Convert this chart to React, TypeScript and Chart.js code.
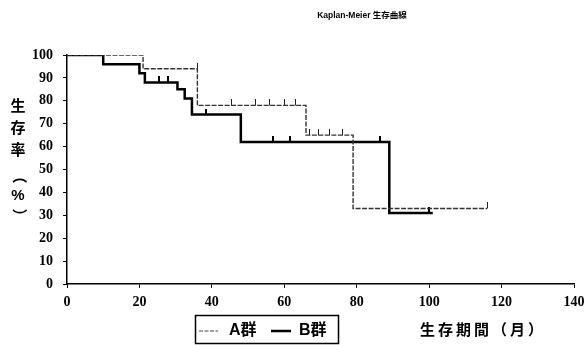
import React, { useEffect, useRef } from "react";
import { Chart, registerables } from "chart.js";

Chart.register(...registerables);

// Kaplan-Meier step data (months, survival %)
const monthsA = [0, 21, 36, 66, 79, 116];
const survA = [100, 94, 78, 65, 33, 33];
const monthsB = [0, 10, 20, 21.5, 30.5, 32.5, 34.5, 48, 89, 101];
const survB = [100, 96, 92, 88, 85, 81, 74, 62, 31, 31];

// censored observations
const censorMonthsA = [36, 45.5, 52, 56, 60, 63, 67, 69.5, 72.5, 76, 116];
const censorSurvA = [94, 78, 78, 78, 78, 78, 65, 65, 65, 65, 33];
const censorMonthsB = [25.5, 28, 38.5, 57, 61.5, 86.5, 100];
const censorSurvB = [88, 88, 74, 62, 62, 62, 31];

const xTicks = [0, 20, 40, 60, 80, 100, 120, 140];
const yTicks = [0, 10, 20, 30, 40, 50, 60, 70, 80, 90, 100];

const chartTitle = "Kaplan-Meier 生存曲線";
const yTitleChars = ["生", "存", "率", "（", "%", "）"];
const xTitle = "生存期間（月）";
const legendA = "A群";
const legendB = "B群";

const CJK = "'Liberation Sans', 'Noto Sans CJK JP', sans-serif";
const SERIF = "'Liberation Serif', 'DejaVu Serif', serif";

function tickMark(width: number, height: number, color: string) {
  // vertical tick that rises above the point it marks
  const c = document.createElement("canvas");
  c.width = width;
  c.height = height * 2;
  const g = c.getContext("2d")!;
  g.fillStyle = color;
  g.fillRect(0, 0, width, height);
  return c;
}

const decorations = {
  id: "decorations",
  afterDraw(chart: any) {
    const ctx = chart.ctx as CanvasRenderingContext2D;
    ctx.save();
    ctx.fillStyle = "#000";
    ctx.textBaseline = "middle";

    // title
    ctx.textAlign = "center";
    ctx.font = `bold 8.5px ${CJK}`;
    ctx.fillText(chartTitle, 362, 16);

    // vertical y-axis title, brackets turned to run top-to-bottom
    ctx.font = `bold 15px ${CJK}`;
    const yPos = [107, 129, 151, 176, 196, 216];
    yTitleChars.forEach((ch, i) => {
      if (ch === "（" || ch === "）") {
        ctx.save();
        ctx.translate(18, yPos[i]);
        ctx.rotate(Math.PI / 2);
        ctx.fillText(ch, 0, 0);
        ctx.restore();
      } else {
        ctx.fillText(ch, 18, yPos[i]);
      }
    });

    // x-axis title
    ctx.textAlign = "left";
    ctx.font = `bold 15px ${CJK}`;
    let x = 420;
    for (const ch of Array.from(xTitle)) {
      ctx.fillText(ch, x, 331);
      x += ctx.measureText(ch).width + 3;
    }

    // legend box
    ctx.strokeStyle = "#000";
    ctx.lineWidth = 1.5;
    ctx.strokeRect(195.5, 315.5, 143, 28);

    ctx.strokeStyle = "#444";
    ctx.lineWidth = 1.2;
    ctx.setLineDash([4, 1.5]);
    ctx.beginPath();
    ctx.moveTo(199, 331);
    ctx.lineTo(218, 331);
    ctx.stroke();
    ctx.setLineDash([]);

    ctx.strokeStyle = "#000";
    ctx.lineWidth = 2.5;
    ctx.beginPath();
    ctx.moveTo(271, 331);
    ctx.lineTo(291, 331);
    ctx.stroke();

    ctx.font = `bold 16px ${CJK}`;
    ctx.fillText(legendA, 229, 331);
    ctx.fillText(legendB, 299, 331);
    ctx.restore();
  },
};

export default function App() {
  const ref = useRef<HTMLCanvasElement>(null);

  useEffect(() => {
    const canvas = ref.current!;
    const chart = new Chart(canvas, {
      type: "line",
      data: {
        datasets: [
          {
            label: legendA,
            data: monthsA.map((m, i) => ({ x: m, y: survA[i] })),
            stepped: "before",
            borderColor: "#333",
            borderWidth: 1.4,
            borderDash: [5, 1.5],
            pointRadius: 0,
            fill: false,
          },
          {
            label: "A censored",
            data: censorMonthsA.map((m, i) => ({ x: m, y: censorSurvA[i] })),
            showLine: false,
            pointStyle: tickMark(1, 6, "#222") as any,
            pointRadius: 3,
          },
          {
            label: legendB,
            data: monthsB.map((m, i) => ({ x: m, y: survB[i] })),
            stepped: "before",
            borderColor: "#000",
            borderWidth: 2.5,
            pointRadius: 0,
            fill: false,
          },
          {
            label: "B censored",
            data: censorMonthsB.map((m, i) => ({ x: m, y: censorSurvB[i] })),
            showLine: false,
            pointStyle: tickMark(2, 6, "#000") as any,
            pointRadius: 3,
          },
        ],
      },
      options: {
        responsive: false,
        animation: false,
        layout: { padding: { left: 0, right: 12, top: 55, bottom: 31 } },
        plugins: {
          legend: { display: false },
          title: { display: false },
          tooltip: { enabled: false },
        },
        scales: {
          x: {
            type: "linear",
            min: 0,
            max: 140,
            afterFit: (s: any) => {
              s.height = 30;
              s.paddingLeft = 0;
              s.paddingRight = 0;
            },
            afterBuildTicks: (s: any) => {
              s.ticks = xTicks.map((v) => ({ value: v }));
            },
            border: { color: "#000", width: 1.5 },
            grid: { drawOnChartArea: false, color: "#000", tickLength: 4, lineWidth: 1 },
            ticks: {
              color: "#000",
              font: { family: SERIF, size: 14, weight: "bold" },
              padding: 6,
              maxRotation: 0,
            },
          },
          y: {
            min: 0,
            max: 100,
            afterFit: (s: any) => {
              s.width = 67;
              s.paddingTop = 0;
              s.paddingBottom = 0;
            },
            afterBuildTicks: (s: any) => {
              s.ticks = yTicks.map((v) => ({ value: v }));
            },
            border: { color: "#000", width: 1.5 },
            grid: { drawOnChartArea: false, color: "#000", tickLength: 4, lineWidth: 1 },
            ticks: {
              color: "#000",
              font: { family: SERIF, size: 14, weight: "bold" },
              padding: 10,
            },
          },
        },
      },
      plugins: [decorations],
    });
    return () => chart.destroy();
  }, []);

  return (
    <div style={{ position: "fixed", left: 0, top: 0, width: 586, height: 345, background: "#fff" }}>
      <canvas ref={ref} width={586} height={345} style={{ display: "block" }} />
    </div>
  );
}
